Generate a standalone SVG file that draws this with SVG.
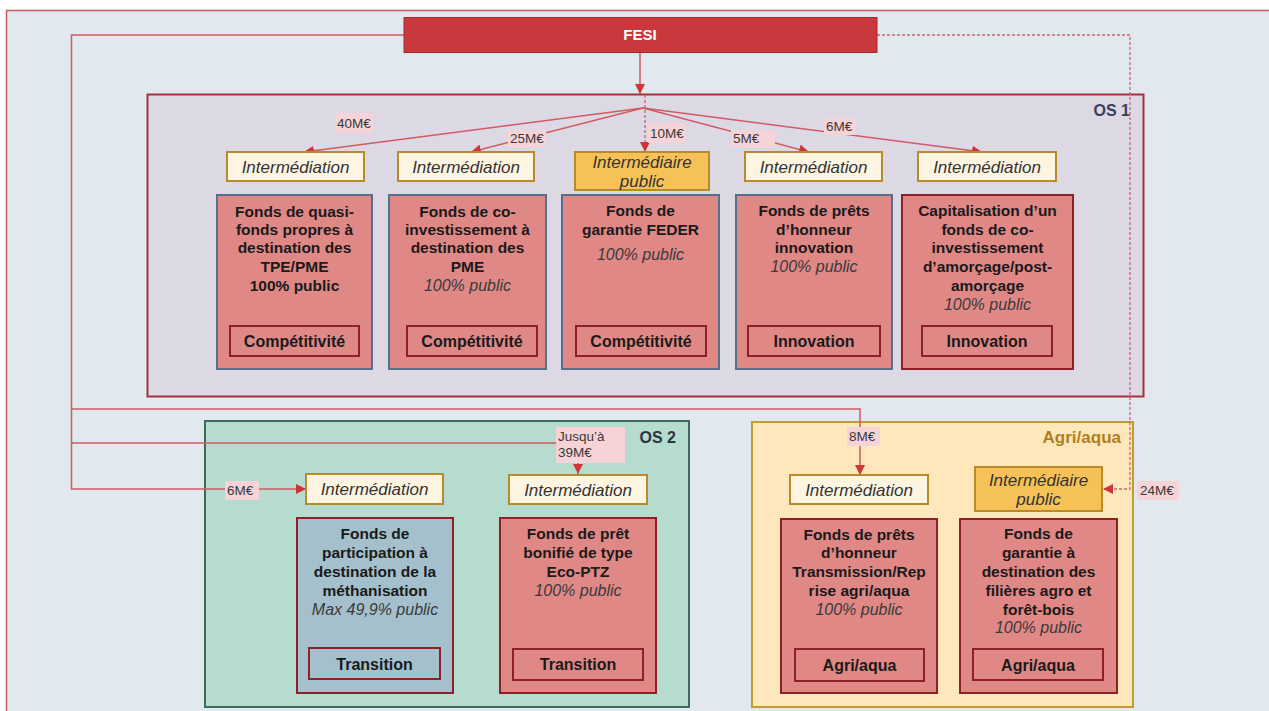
<svg xmlns="http://www.w3.org/2000/svg" width="1269" height="711" viewBox="0 0 1269 711">
<defs>
<style>
text{font-family:"Liberation Sans",Arial,sans-serif;}
.b{font-weight:bold;font-size:15.5px;fill:#1a1a1a;text-anchor:middle;}
.s{font-weight:bold;font-size:16px;fill:#1a1a1a;text-anchor:middle;}
.i{font-style:italic;font-size:16px;fill:#3a3a3a;text-anchor:middle;}
.im{font-style:italic;font-size:17px;fill:#333;text-anchor:middle;}
.lb{font-size:13.5px;fill:#3a3a3a;}
.lbg{fill:#f5d3d6;}
.inter{fill:#fdf4e2;stroke:#b88a2a;stroke-width:2;}
.ipub{fill:#f6c258;stroke:#b88a2a;stroke-width:2;}
.fund{fill:#e08886;stroke:#56708a;stroke-width:2;}
.fundr{fill:#e08886;stroke:#8e2028;stroke-width:2;}
.fundbl{fill:#a4c0cc;stroke:#8e2028;stroke-width:2;}
.sub{fill:none;stroke:#8e2028;stroke-width:2;}
.ln{fill:none;stroke:#d05a62;stroke-width:1.5;}
.dl{fill:none;stroke:#c86474;stroke-width:1.3;stroke-dasharray:3,2;}
</style>
<marker id="ah" viewBox="0 0 10 10" refX="10" refY="5" markerWidth="10" markerHeight="10" markerUnits="userSpaceOnUse" orient="auto">
<path d="M0,0 L10,5 L0,10 Z" fill="#d0343a"/>
</marker>
</defs>
<rect x="0" y="0" width="1269" height="711" fill="#ffffff"/>
<rect x="6.5" y="10.5" width="1275" height="710" fill="#e1e9ef" stroke="#c85a5f" stroke-width="1.5"/>

<g id="os1">
<rect x="147.5" y="94.5" width="996" height="302" fill="#dcd9e5" stroke="#a8323c" stroke-width="2"/>
<text x="1130" y="116" style="font-weight:bold;font-size:16px;fill:#3b3f5c;text-anchor:end">OS 1</text>
</g>
<g id="os2">
<rect x="205" y="421" width="484" height="286" fill="#b5dccf" stroke="#3c6a58" stroke-width="2"/>
<text x="676" y="443" style="font-weight:bold;font-size:16px;fill:#2e3340;text-anchor:end">OS 2</text>
</g>
<g id="agri">
<rect x="752" y="422" width="381" height="285" fill="#fde7bb" stroke="#c49a32" stroke-width="2"/>
<text x="1121" y="443" style="font-weight:bold;font-size:17px;fill:#b08020;text-anchor:end">Agri/aqua</text>
</g>

<g id="connectors">
<path class="ln" d="M640,53 L640,94" marker-end="url(#ah)"/>
<path class="ln" d="M643,108 L304,152" marker-end="url(#ah)"/>
<path class="ln" d="M643,108 L471,152" marker-end="url(#ah)"/>
<path class="ln" d="M643,108 L809,152" marker-end="url(#ah)"/>
<path class="ln" d="M643,108 L982,152" marker-end="url(#ah)"/>
<path class="dl" d="M645,95 L645,152" marker-end="url(#ah)"/>
<path class="ln" d="M404,35 L71.5,35 L71.5,489 L306,489" marker-end="url(#ah)"/>
<path class="ln" d="M71.5,409 L860,409 L860,475" marker-end="url(#ah)"/>
<path class="ln" d="M71.5,443 L578,443 L578,474" marker-end="url(#ah)"/>
<path class="dl" d="M877,35 L1130,35 L1130,489 L1103,489" marker-end="url(#ah)"/>
<rect class="lbg" x="335" y="113" width="38" height="20"/>
<text class="lb" x="337" y="128">40M€</text>
<rect class="lbg" x="508" y="130" width="38" height="17"/>
<text class="lb" x="510" y="143">25M€</text>
<rect class="lbg" x="648" y="123" width="37" height="20"/>
<text class="lb" x="650" y="138">10M€</text>
<rect class="lbg" x="731" y="130" width="44" height="17"/>
<text class="lb" x="733" y="143">5M€</text>
<rect class="lbg" x="824" y="118" width="32" height="17"/>
<text class="lb" x="826" y="131">6M€</text>
<rect class="lbg" x="225" y="481" width="34" height="19"/>
<text class="lb" x="227" y="495">6M€</text>
<rect class="lbg" x="556" y="427" width="69" height="36"/>
<text class="lb" x="558" y="441">Jusqu’à</text>
<text class="lb" x="558" y="457">39M€</text>
<rect class="lbg" x="847" y="427" width="33" height="19"/>
<text class="lb" x="849" y="441">8M€</text>
<rect class="lbg" x="1137" y="481" width="42" height="19"/>
<text class="lb" x="1140" y="495">24M€</text>
</g>

<g id="fesi">
<rect x="404" y="17.5" width="473" height="35" fill="#c8383c" stroke="#a82a30" stroke-width="1"/>
<text x="640" y="40" style="font-weight:bold;font-size:15px;fill:#ffffff;text-anchor:middle">FESI</text>
</g>

<g id="inter1"><rect class="inter" x="227" y="152" width="137" height="29"/><text class="im" x="295.5" y="172.5">Intermédiation</text></g>
<g id="inter2"><rect class="inter" x="398" y="152" width="136" height="29"/><text class="im" x="466" y="172.5">Intermédiation</text></g>
<g id="interpub1"><rect class="ipub" x="575" y="152" width="134" height="38"/><text class="im" x="642" y="168">Intermédiaire</text><text class="im" x="642" y="187">public</text></g>
<g id="inter4"><rect class="inter" x="745" y="152" width="137" height="29"/><text class="im" x="813.5" y="172.5">Intermédiation</text></g>
<g id="inter5"><rect class="inter" x="918" y="152" width="138" height="29"/><text class="im" x="987" y="172.5">Intermédiation</text></g>

<g id="fund1">
<rect class="fund" x="217" y="195" width="155" height="174"/>
<text class="b" x="294.5" y="217">Fonds de quasi-</text>
<text class="b" x="294.5" y="235">fonds propres à</text>
<text class="b" x="294.5" y="253">destination des</text>
<text class="b" x="294.5" y="272">TPE/PME</text>
<text class="b" x="294.5" y="291">100% public</text>
<rect class="sub" x="230" y="326" width="129" height="30"/>
<text class="s" x="294.5" y="347">Compétitivité</text>
</g>
<g id="fund2">
<rect class="fund" x="389" y="195" width="157" height="174"/>
<text class="b" x="467.5" y="217">Fonds de co-</text>
<text class="b" x="467.5" y="235">investissement à</text>
<text class="b" x="467.5" y="253">destination des</text>
<text class="b" x="467.5" y="272">PME</text>
<text class="i" x="467.5" y="291">100% public</text>
<rect class="sub" x="407" y="326" width="130" height="30"/>
<text class="s" x="472" y="347">Compétitivité</text>
</g>
<g id="fund3">
<rect class="fund" x="562" y="195" width="157" height="174"/>
<text class="b" x="640.5" y="216">Fonds de</text>
<text class="b" x="640.5" y="235">garantie FEDER</text>
<text class="i" x="640.5" y="260">100% public</text>
<rect class="sub" x="576" y="326" width="130" height="30"/>
<text class="s" x="641" y="347">Compétitivité</text>
</g>
<g id="fund4">
<rect class="fund" x="736" y="195" width="156" height="174"/>
<text class="b" x="814" y="216">Fonds de prêts</text>
<text class="b" x="814" y="235">d’honneur</text>
<text class="b" x="814" y="253">innovation</text>
<text class="i" x="814" y="272">100% public</text>
<rect class="sub" x="748" y="326" width="132" height="30"/>
<text class="s" x="814" y="347">Innovation</text>
</g>
<g id="fund5">
<rect class="fundr" x="902" y="195" width="171" height="174"/>
<text class="b" x="987.5" y="216">Capitalisation d’un</text>
<text class="b" x="987.5" y="235">fonds de co-</text>
<text class="b" x="987.5" y="253">investissement</text>
<text class="b" x="987.5" y="272">d’amorçage/post-</text>
<text class="b" x="987.5" y="291">amorçage</text>
<text class="i" x="987.5" y="310">100% public</text>
<rect class="sub" x="922" y="326" width="130" height="30"/>
<text class="s" x="987" y="347">Innovation</text>
</g>

<g id="inter6"><rect class="inter" x="306" y="474" width="137" height="30"/><text class="im" x="374.5" y="495">Intermédiation</text></g>
<g id="inter7"><rect class="inter" x="509" y="475" width="138" height="29"/><text class="im" x="578" y="495.5">Intermédiation</text></g>
<g id="fund6">
<rect class="fundbl" x="297" y="518" width="156" height="175"/>
<text class="b" x="375" y="539">Fonds de</text>
<text class="b" x="375" y="558">participation à</text>
<text class="b" x="375" y="577">destination de la</text>
<text class="b" x="375" y="596">méthanisation</text>
<text class="i" x="375" y="615">Max 49,9% public</text>
<rect class="sub" x="309" y="648" width="131" height="31"/>
<text class="s" x="374.5" y="670">Transition</text>
</g>
<g id="fund7">
<rect class="fundr" x="500" y="518" width="156" height="175"/>
<text class="b" x="578" y="539">Fonds de prêt</text>
<text class="b" x="578" y="558">bonifié de type</text>
<text class="b" x="578" y="577">Eco-PTZ</text>
<text class="i" x="578" y="596">100% public</text>
<rect class="sub" x="513" y="649" width="130" height="31"/>
<text class="s" x="578" y="670">Transition</text>
</g>

<g id="inter8"><rect class="inter" x="790" y="475" width="138" height="29"/><text class="im" x="859" y="495.5">Intermédiation</text></g>
<g id="interpub2"><rect class="ipub" x="975" y="467" width="127" height="44"/><text class="im" x="1038.5" y="486">Intermédiaire</text><text class="im" x="1038.5" y="505">public</text></g>
<g id="fund8">
<rect class="fundr" x="781" y="519" width="156" height="174"/>
<text class="b" x="859" y="540">Fonds de prêts</text>
<text class="b" x="859" y="558">d’honneur</text>
<text class="b" x="859" y="577">Transmission/Rep</text>
<text class="b" x="859" y="596">rise agri/aqua</text>
<text class="i" x="859" y="615">100% public</text>
<rect class="sub" x="795" y="649" width="129" height="32"/>
<text class="s" x="859.5" y="671">Agri/aqua</text>
</g>
<g id="fund9">
<rect class="fundr" x="960" y="519" width="157" height="174"/>
<text class="b" x="1038.5" y="539">Fonds de</text>
<text class="b" x="1038.5" y="558">garantie à</text>
<text class="b" x="1038.5" y="577">destination des</text>
<text class="b" x="1038.5" y="596">filières agro et</text>
<text class="b" x="1038.5" y="615">forêt-bois</text>
<text class="i" x="1038.5" y="633">100% public</text>
<rect class="sub" x="973" y="649" width="130" height="31"/>
<text class="s" x="1038" y="671">Agri/aqua</text>
</g>
</svg>
